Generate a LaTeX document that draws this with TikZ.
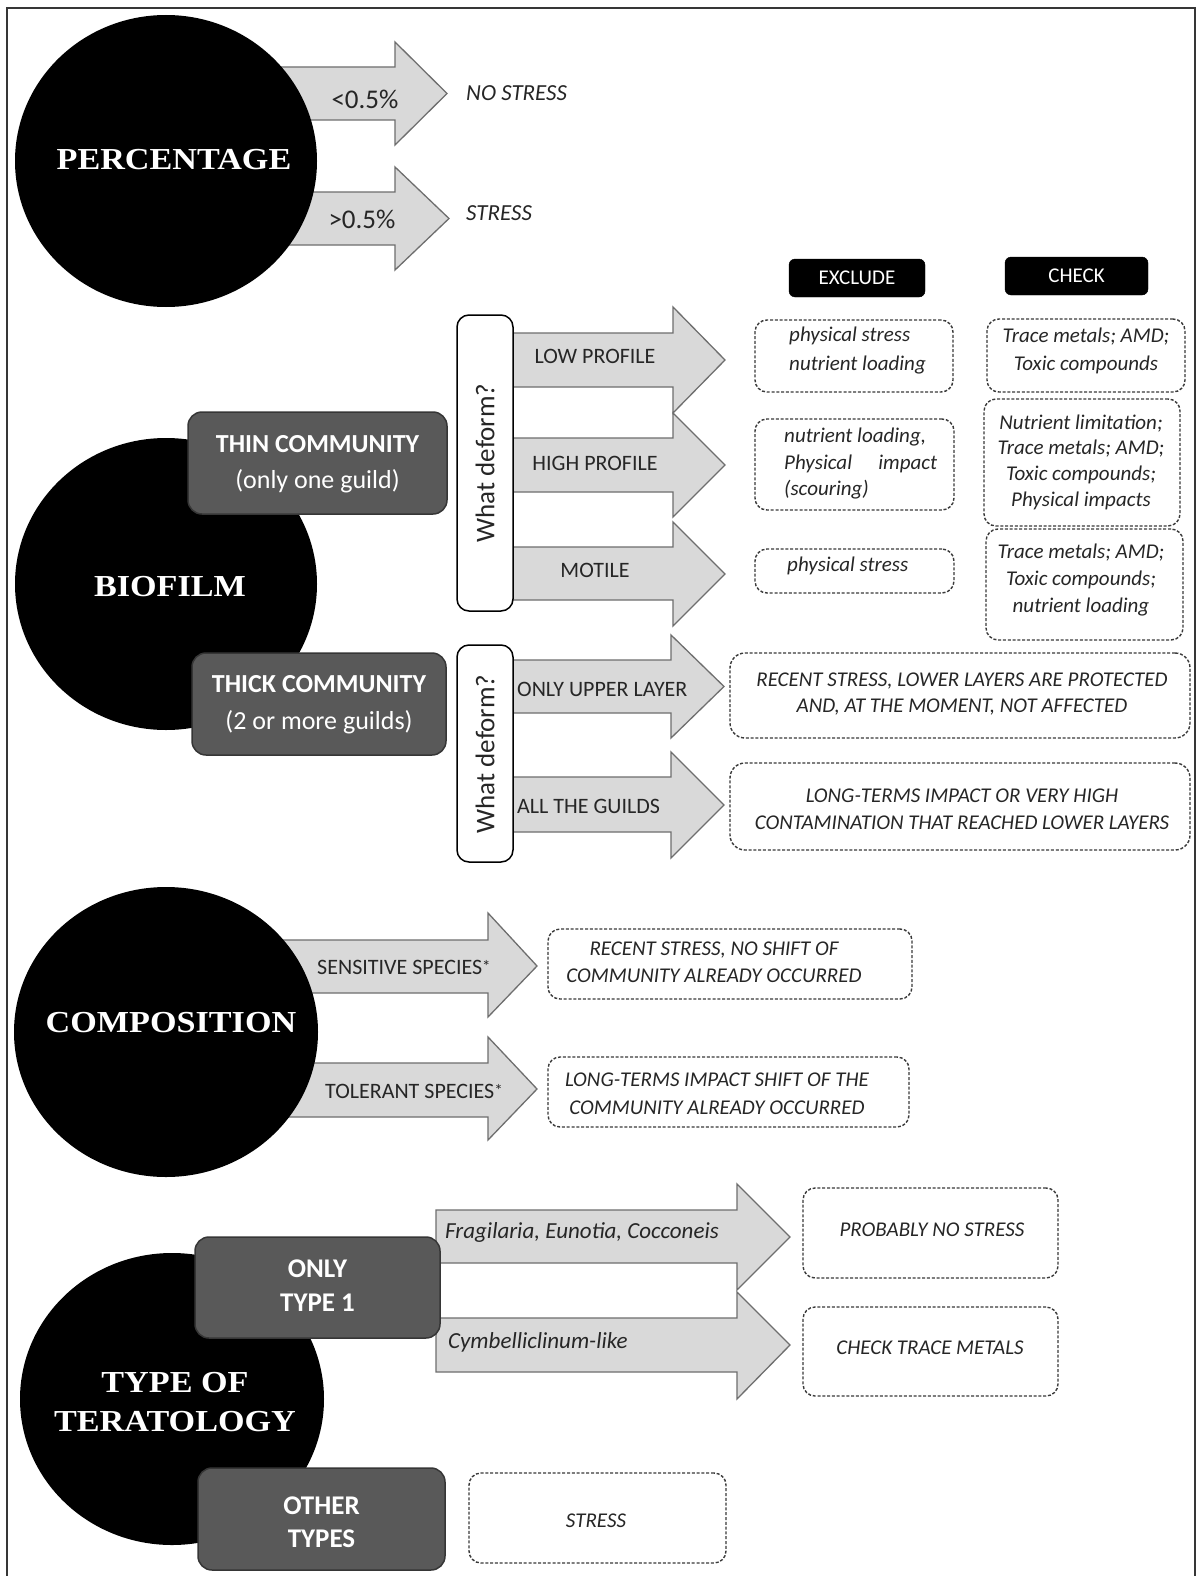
\documentclass[tikz,border=0pt]{standalone}
\usepackage{fontspec}
\setmainfont{Carlito}
\newfontfamily\circfont{Liberation Serif}[FakeStretch=1.12]
\usetikzlibrary{shapes.geometric}
\definecolor{arrfill}{HTML}{D9D9D9}
\definecolor{arrline}{HTML}{6E6E6E}
\definecolor{boxfill}{HTML}{595959}
\definecolor{boxline}{HTML}{363636}
\definecolor{txt}{HTML}{262626}
\definecolor{dashline}{HTML}{3A3A3A}
\newcommand\fs[2]{\fontsize{#1}{#2}\selectfont}
\newcommand\blockarr[8]{%
  \draw[arr] (#1,#2) -- (#4,#2) -- (#4,#5) -- (#7,#8) -- (#4,#6) -- (#4,#3) -- (#1,#3) -- cycle;}
\tikzset{
  arr/.style={fill=arrfill, draw=arrline, line width=1.3pt, line join=miter},
  bigcirc/.style={ellipse, fill=black, draw=none, inner sep=0pt},
  circlabel/.style={text=white, font=\circfont\bfseries\fs{30.5}{39}, align=center, inner sep=0pt},
  darkbox/.style={rectangle, rounded corners=14pt, fill=boxfill, draw=boxline, line width=1.5pt, inner sep=0pt},
  darktext/.style={text=white, align=center, inner sep=0pt},
  wdbox/.style={rectangle, rounded corners=12pt, fill=white, draw=black, line width=1.5pt, inner sep=0pt},
  hdrbox/.style={rectangle, rounded corners=6pt, fill=black, draw=black, text=white, font=\fs{21}{25}, inner sep=0pt},
  dbox/.style={rectangle, rounded corners=12pt, draw=dashline, fill=white, line width=1.4pt, dash pattern=on 3pt off 1.8pt, inner sep=0pt},
  albl/.style={text=txt, font=\fs{22}{26}, inner sep=0pt},
  itxt/.style={text=txt, font=\itshape\fs{21}{26}, inner sep=0pt, align=center},
}
\begin{document}
\begin{tikzpicture}[x=1pt,y=-1pt]
\useasboundingbox (0,0) rectangle (1201,1576);
\fill[white] (0,0) rectangle (1201,1576);
\draw[line width=1.3pt, draw=boxline] (7,1576) -- (7,8) -- (1195,8) -- (1195,1576);

% ===== PERCENTAGE =====
\blockarr{260}{67}{120}{395}{42}{145}{447}{93.5}
\blockarr{260}{192}{245}{395}{167}{270}{449}{218.5}
\node[bigcirc, minimum width=302pt, minimum height=292pt] (perc) at (166,161) {};
\node[circlabel] (percl) at (174,160) {PERCENTAGE};
\node[text=txt, font=\fs{27}{30}, inner sep=0pt] (lt) at (365,99) {<0.5\%};
\node[text=txt, font=\fs{27}{30}, inner sep=0pt] (gt) at (362,219) {>0.5\%};
\node[text=txt, font=\itshape\fs{23}{26}, anchor=west, inner sep=0pt] (nostress) at (466,93) {NO STRESS};
\node[text=txt, font=\itshape\fs{23}{26}, anchor=west, inner sep=0pt] (stress1) at (466,213) {STRESS};

% ===== BIOFILM =====
\node[bigcirc, minimum width=302pt, minimum height=292pt] (bio) at (166,584) {};
\node[circlabel] (biol) at (170,587) {BIOFILM};
\blockarr{500}{333}{387}{673}{307}{413}{725}{360}
\blockarr{500}{438}{492}{673}{413}{517}{725}{465}
\blockarr{500}{547}{600}{673}{522}{626}{725}{574}
\blockarr{500}{660}{713}{671}{635}{738}{724}{686.5}
\blockarr{500}{777}{832}{671}{752}{858}{724}{805}
\node[albl] (low) at (595,356) {LOW PROFILE};
\node[albl] (high) at (595,463) {HIGH PROFILE};
\node[albl] (mot) at (595,570) {MOTILE};
\node[albl, anchor=west] (upper) at (517,689) {ONLY UPPER LAYER};
\node[albl, anchor=west] (guilds) at (517,806) {ALL THE GUILDS};
\node[wdbox, minimum width=56pt, minimum height=296pt] (wd1) at (485,463) {};
\node[text=txt, font=\fs{27}{30}, rotate=90, inner sep=0pt] (wd1t) at (485,463) {What deform?};
\node[wdbox, minimum width=56pt, minimum height=217pt] (wd2) at (485,753.5) {};
\node[text=txt, font=\fs{27}{30}, rotate=90, inner sep=0pt] (wd2t) at (485,754) {What deform?};
\node[darkbox, minimum width=259pt, minimum height=102pt] (thin) at (317.5,463) {};
\node[darktext, font=\fs{26}{36}] (thint) at (317.5,464) {{\bfseries THIN COMMUNITY}\\(only one guild)};
\node[darkbox, minimum width=254pt, minimum height=102pt] (thick) at (319,704) {};
\node[darktext, font=\fs{26}{37}] (thickt) at (319,705) {{\bfseries THICK COMMUNITY}\\(2 or more guilds)};

\node[hdrbox, minimum width=136pt, minimum height=38pt] (excl) at (857,278) {EXCLUDE};
\node[hdrbox, minimum width=143pt, minimum height=38pt] (chk) at (1076.5,276) {CHECK};

\node[dbox, minimum width=198pt, minimum height=72pt] (e1) at (854,356) {};
\node[itxt, align=left, anchor=west, font=\itshape\fs{21}{29}] (e1t) at (789,351) {physical stress\\nutrient loading};
\node[dbox, minimum width=199pt, minimum height=91pt] (e2) at (854.5,464.5) {};
\node[itxt, align=left, anchor=west, font=\itshape\fs{21}{26.5}] (e2t) at (784,464) {nutrient loading,\\\makebox[153pt][s]{Physical impact}\\(scouring)};
\node[dbox, minimum width=199pt, minimum height=44pt] (e3) at (854.5,571) {};
\node[itxt, anchor=west] (e3t) at (787,566) {physical stress};

\node[dbox, minimum width=198pt, minimum height=73pt] (c1) at (1086,355.5) {};
\node[itxt, font=\itshape\fs{21}{28}] (c1t) at (1086,351) {Trace metals; AMD;\\Toxic compounds};
\node[dbox, minimum width=196pt, minimum height=127pt] (c2) at (1082,462.5) {};
\node[itxt, font=\itshape\fs{21}{25.7}] (c2t) at (1081,462) {Nutrient limitation;\\Trace metals; AMD;\\Toxic compounds;\\Physical impacts};
\node[dbox, minimum width=197pt, minimum height=111pt] (c3) at (1084.5,584.5) {};
\node[itxt, font=\itshape\fs{21}{27}] (c3t) at (1081,580.5) {Trace metals; AMD;\\Toxic compounds;\\nutrient loading};

\node[dbox, rounded corners=15pt, minimum width=460pt, minimum height=85pt] (r1) at (960,695.5) {};
\node[itxt, font=\itshape\fs{21}{26}] (r1t) at (962,694.5) {RECENT STRESS, LOWER LAYERS ARE PROTECTED\\AND, AT THE MOMENT, NOT AFFECTED};
\node[dbox, rounded corners=15pt, minimum width=460pt, minimum height=87pt] (r2) at (960,806.5) {};
\node[itxt, font=\itshape\fs{21}{27}] (r2t) at (962,809) {LONG-TERMS IMPACT OR VERY HIGH\\CONTAMINATION THAT REACHED LOWER LAYERS};

% ===== COMPOSITION =====
\blockarr{260}{940}{993}{488}{913}{1017}{537}{966}
\blockarr{260}{1063}{1117}{488}{1037}{1140}{537}{1089}
\node[bigcirc, minimum width=304pt, minimum height=290pt] (comp) at (166,1032) {};
\node[circlabel] (compl) at (171,1023) {COMPOSITION};
\node[albl, anchor=west] (sens) at (317,967) {SENSITIVE SPECIES\raisebox{2pt}{\fs{17}{17}*}};
\node[albl, anchor=west] (tol) at (325,1091) {TOLERANT SPECIES\raisebox{2pt}{\fs{17}{17}*}};
\node[dbox, minimum width=364pt, minimum height=70pt] (rs) at (730,964) {};
\node[itxt, font=\itshape\fs{21}{27}] (rst) at (714,962) {RECENT STRESS, NO SHIFT OF\\COMMUNITY ALREADY OCCURRED};
\node[dbox, minimum width=361pt, minimum height=70pt] (rt) at (728.5,1092) {};
\node[itxt, font=\itshape\fs{21}{28}] (rtt) at (717,1094) {LONG-TERMS IMPACT SHIFT OF THE\\COMMUNITY ALREADY OCCURRED};

% ===== TYPE OF TERATOLOGY =====
\node[bigcirc, minimum width=304pt, minimum height=292pt] (tera) at (172,1399) {};
\node[circlabel] (teral) at (175,1402) {TYPE OF\\TERATOLOGY};
\blockarr{436}{1210}{1263}{737}{1184}{1290}{790}{1237}
\blockarr{436}{1318}{1372}{737}{1292}{1399}{790}{1345}
\node[text=txt, font=\itshape\fs{23}{26}, anchor=west, inner sep=0pt] (frag) at (445,1232) {Fragilaria, Eunotia, Cocconeis};
\node[text=txt, font=\itshape\fs{23}{26}, anchor=west, inner sep=0pt] (cymb) at (448,1342) {Cymbelliclinum-like};
\node[darkbox, minimum width=245pt, minimum height=101pt] (t1) at (317.5,1287.5) {};
\node[darktext, font=\bfseries\fs{27}{34}] (t1t) at (317.5,1286) {ONLY\\TYPE 1};
\node[darkbox, minimum width=247pt, minimum height=102pt] (ot) at (321.5,1519) {};
\node[darktext, font=\bfseries\fs{27}{33}] (ott) at (321.5,1522) {OTHER\\TYPES};
\node[dbox, minimum width=255pt, minimum height=90pt] (pn) at (930.5,1233) {};
\node[itxt] (pnt) at (932,1230) {PROBABLY NO STRESS};
\node[dbox, minimum width=255pt, minimum height=89pt] (ct) at (930.5,1351.5) {};
\node[itxt] (ctt) at (930,1348) {CHECK TRACE METALS};
\node[dbox, minimum width=257pt, minimum height=90pt] (st) at (597.5,1518) {};
\node[itxt] (stt) at (596,1521) {STRESS};
\end{tikzpicture}
\end{document}
